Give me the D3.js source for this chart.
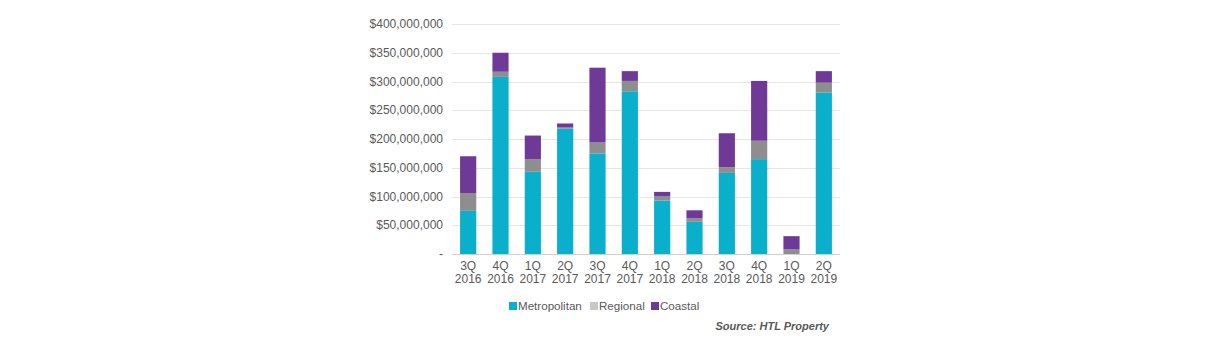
<!DOCTYPE html>
<html>
<head>
<meta charset="utf-8">
<script src="https://cdn.jsdelivr.net/npm/d3@7"></script>
<style>
  body { margin: 0; background: #fff; }
  text { font-family: "Liberation Sans", Arial, sans-serif; }
</style>
</head>
<body>
<script>
const quarters = ["3Q 2016", "4Q 2016", "1Q 2017", "2Q 2017", "3Q 2017", "4Q 2017",
                  "1Q 2018", "2Q 2018", "3Q 2018", "4Q 2018", "1Q 2019", "2Q 2019"];
const metropolitan = [75e6, 308e6, 143e6, 218e6, 175e6, 283e6, 93e6, 56e6, 141e6, 165e6, 0, 281e6];
const regional     = [31e6, 9e6, 22e6, 2e6, 19e6, 18e6, 7e6, 6e6, 10e6, 32e6, 8e6, 17e6];
const coastal      = [64e6, 33e6, 41e6, 7e6, 130e6, 17e6, 8e6, 14e6, 59e6, 104e6, 23e6, 20e6];
const seriesNames = ["Metropolitan", "Regional", "Coastal"];
const yTicks = [0, 50e6, 100e6, 150e6, 200e6, 250e6, 300e6, 350e6, 400e6];

const colors = { Metropolitan: "#0aafcc", Regional: "#8e8e8e", Coastal: "#6f3a97" };
const legendColors = { Metropolitan: "#0aafcc", Regional: "#c8c8c8", Coastal: "#6f3a97" };

const w = 1220, h = 350;
const svg = d3.select("body").append("svg")
  .attr("width", w)
  .attr("height", h);

const table = quarters.map((q, i) => ({
  q, Metropolitan: metropolitan[i], Regional: regional[i], Coastal: coastal[i]
}));
const stacked = d3.stack().keys(seriesNames)(table);

const x = d3.scaleBand().domain(quarters).range([452, 840]).paddingInner(0.5).paddingOuter(0.25);
const y = d3.scaleLinear().domain([0, 400e6]).range([254, 24]);

// gridlines
svg.append("g")
  .selectAll("line")
  .data(yTicks)
  .join("line")
  .attr("x1", 452).attr("x2", 840)
  .attr("y1", d => Math.round(y(d)) + 0.5)
  .attr("y2", d => Math.round(y(d)) + 0.5)
  .attr("stroke", d => d === 0 ? "#d0d0d0" : "#e6e6e6")
  .attr("stroke-width", 1);

// y labels
const fmt = d3.format(",");
svg.append("g")
  .selectAll("text")
  .data(yTicks)
  .join("text")
  .attr("x", 443)
  .attr("y", d => y(d) + 4)
  .attr("text-anchor", "end")
  .attr("font-size", 12)
  .attr("fill", "#595959")
  .text(d => d === 0 ? "-" : "$" + fmt(d));

// bars
svg.append("g")
  .selectAll("g")
  .data(stacked)
  .join("g")
  .attr("fill", s => colors[s.key])
  .selectAll("rect")
  .data(s => s)
  .join("rect")
  .attr("x", d => x(d.data.q))
  .attr("width", x.bandwidth())
  .attr("y", d => y(d[1]))
  .attr("height", d => y(d[0]) - y(d[1]));

// x labels
const xl = svg.append("g")
  .selectAll("text")
  .data(quarters)
  .join("text")
  .attr("x", d => x(d) + x.bandwidth() / 2)
  .attr("text-anchor", "middle")
  .attr("font-size", 12)
  .attr("fill", "#595959");
xl.append("tspan").attr("x", d => x(d) + x.bandwidth() / 2).attr("y", 270).text(d => d.split(" ")[0]);
xl.append("tspan").attr("x", d => x(d) + x.bandwidth() / 2).attr("y", 283).text(d => d.split(" ")[1]);

// legend
const legendX = [509, 590, 651];
const legend = svg.append("g").attr("id", "legend");
seriesNames.forEach((name, i) => {
  legend.append("rect")
    .attr("x", legendX[i]).attr("y", 302)
    .attr("width", 8).attr("height", 8)
    .attr("fill", legendColors[name]);
  legend.append("text")
    .attr("x", legendX[i] + 9).attr("y", 310)
    .attr("font-size", 11.6)
    .attr("fill", "#595959")
    .text(name);
});

svg.append("text")
  .attr("x", 829).attr("y", 330)
  .attr("text-anchor", "end")
  .attr("font-size", 11)
  .attr("font-weight", "bold")
  .attr("font-style", "italic")
  .attr("fill", "#595959")
  .text("Source: HTL Property");
</script>
</body>
</html>
